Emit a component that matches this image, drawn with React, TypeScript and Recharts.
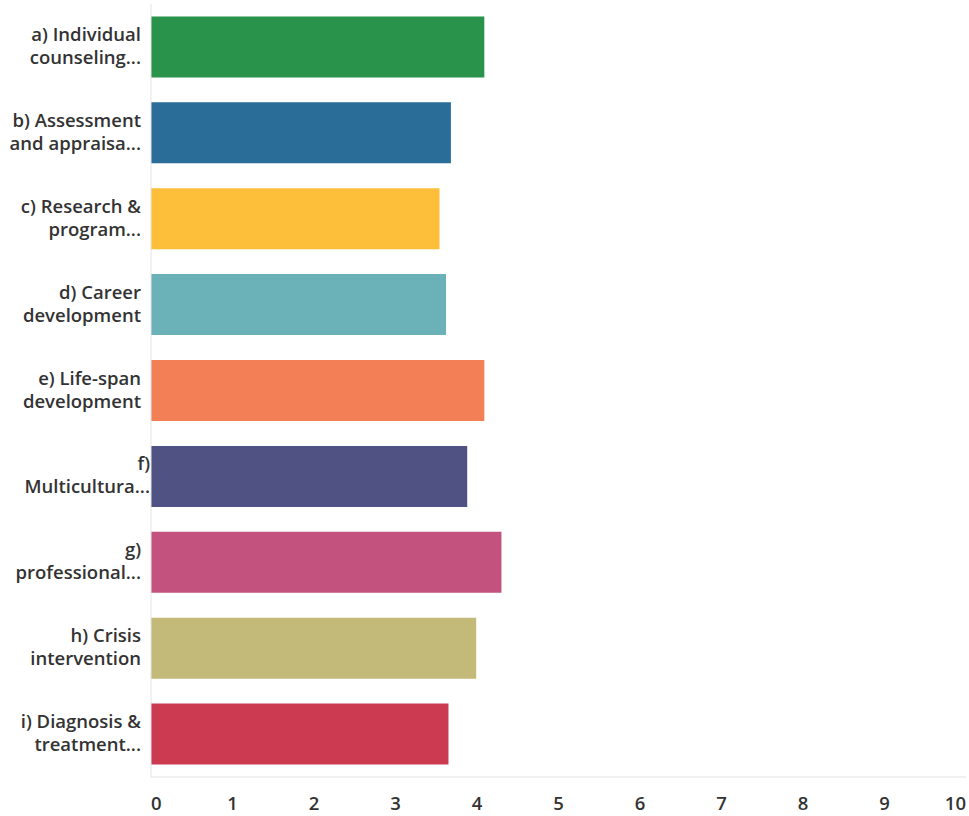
import { Bar, BarChart, Cell, XAxis, YAxis } from "recharts";

const labels = [
  ["a) Individual", "counseling..."],
  ["b) Assessment", "and appraisa..."],
  ["c) Research &", "program..."],
  ["d) Career", "development"],
  ["e) Life-span", "development"],
  ["f)", "Multicultura..."],
  ["g)", "professional..."],
  ["h) Crisis", "intervention"],
  ["i) Diagnosis &", "treatment..."],
];

const scores = [4.09, 3.68, 3.54, 3.62, 4.09, 3.88, 4.3, 3.99, 3.65];

const colors = [
  "#29924b",
  "#2b6d99",
  "#fdbf3a",
  "#6ab2b7",
  "#f27f55",
  "#4f5282",
  "#c4527f",
  "#c3b979",
  "#cc3a52",
];

const ticks = [0, 1, 2, 3, 4, 5, 6, 7, 8, 9, 10];

const data = labels.map((l, i) => ({ name: l.join(" "), score: scores[i] }));

const font = "'Open Sans', sans-serif";

const CategoryTick = (props: any) => {
  const { x, y, index } = props;
  const [first, second] = labels[index];
  // the f) row sits a little further right in the original
  const right = index === 5 ? x - 1 : x - 10;
  return (
    <g>
      <text x={right} y={y - 6} textAnchor="end" fill="#333" fontSize={18.5} fontWeight={600} fontFamily={font}>
        {first}
      </text>
      <text x={right} y={y + 17} textAnchor="end" fill="#333" fontSize={18.5} fontWeight={600} fontFamily={font}>
        {second}
      </text>
    </g>
  );
};

const ValueTick = (props: any) => {
  const { x, y, payload, index } = props;
  const anchor = index === 0 ? "start" : index === ticks.length - 1 ? "end" : "middle";
  return (
    <text x={x} y={y + 33} textAnchor={anchor} fill="#333" fontSize={18.5} fontWeight={600} fontFamily={font}>
      {payload.value}
    </text>
  );
};

const App = () => {
  return (
    <div style={{ position: "absolute", left: 0, top: 0, background: "#fff" }}>
      <BarChart
        width={969}
        height={816}
        data={data}
        layout="vertical"
        margin={{ top: 4, right: 3, left: 0, bottom: 0 }}
        barCategoryGap="14.5%"
      >
        <XAxis
          type="number"
          domain={[0, 10]}
          ticks={ticks}
          height={39}
          tickSize={0}
          tickMargin={0}
          tickLine={false}
          axisLine={{ stroke: "#e3e3e3" }}
          tick={<ValueTick />}
          interval={0}
        />
        <YAxis
          type="category"
          dataKey="name"
          width={151}
          tickSize={0}
          tickMargin={0}
          tickLine={false}
          axisLine={{ stroke: "#e3e3e3" }}
          tick={<CategoryTick />}
          interval={0}
        />
        <Bar dataKey="score" isAnimationActive={false}>
          {data.map((d, i) => (
            <Cell key={d.name} fill={colors[i]} />
          ))}
        </Bar>
      </BarChart>
    </div>
  );
};

export default App;
